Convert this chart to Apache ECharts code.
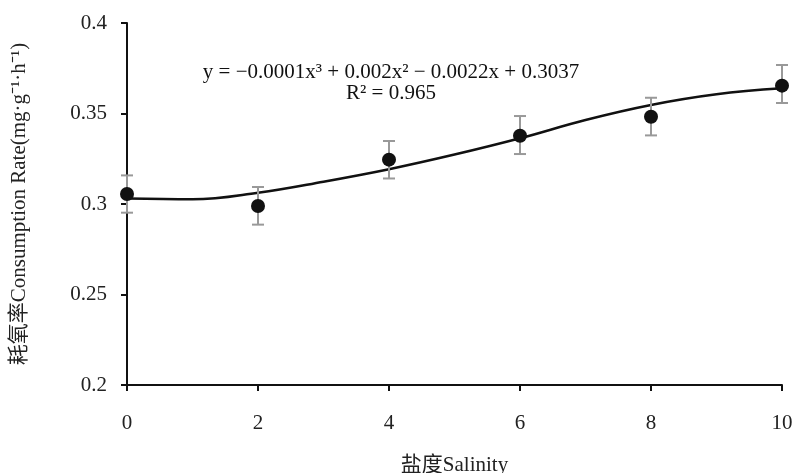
<!DOCTYPE html>
<html>
<head>
<meta charset="utf-8">
<script src="https://cdn.jsdelivr.net/npm/echarts@6/dist/echarts.min.js"></script>
<style>
  html, body { margin: 0; padding: 0; background: #fff; }
  #chart { width: 795px; height: 473px; }
</style>
</head>
<body>
<div id="chart"></div>
<script>
const salinity = [0, 2, 4, 6, 8, 10]
const rate = [0.3055, 0.2989, 0.3245, 0.3377, 0.3482, 0.3654]
const errLow = [0.2952, 0.2886, 0.3141, 0.3276, 0.3379, 0.3558]
const errHigh = [0.3158, 0.3094, 0.3348, 0.3486, 0.3587, 0.3768]

// fitted curve
const fitX = [0, 1, 2, 3, 4, 5, 6, 7, 8, 9, 10]
const fitY = [0.3030, 0.3026, 0.3062, 0.3123, 0.3192, 0.3273, 0.3363, 0.3464, 0.3547, 0.3606, 0.3639]

const fitLabel = 'y = −0.0001x³ + 0.002x² − 0.0022x + 0.3037'
const r2Label = 'R² = 0.965'

const serif = '"Liberation Serif", "Noto Sans CJK SC", serif'

const chart = echarts.init(document.getElementById('chart'))

const option = {
  animation: false,
  backgroundColor: '#fff',
  grid: { left: 127, right: 13, top: 23, bottom: 88, outerBoundsMode: 'none' },
  xAxis: {
    type: 'value',
    min: 0,
    max: 10,
    interval: 2,
    name: '盐度Salinity',
    nameLocation: 'middle',
    nameGap: 70,
    nameTextStyle: { fontFamily: serif, fontSize: 21, color: '#222' },
    axisLine: { lineStyle: { color: '#111', width: 2 } },
    axisTick: { show: true, length: 6, lineStyle: { color: '#111', width: 2 } },
    axisLabel: { fontFamily: serif, fontSize: 21, color: '#222', margin: 28 },
    splitLine: { show: false }
  },
  yAxis: {
    type: 'value',
    min: 0.2,
    max: 0.4,
    interval: 0.05,
    name: '耗氧率Consumption Rate(mg·g⁻¹·h⁻¹)',
    nameLocation: 'middle',
    nameGap: 97,
    nameTextStyle: { fontFamily: serif, fontSize: 21, color: '#222' },
    axisLine: { show: true, lineStyle: { color: '#111', width: 2 } },
    axisTick: { show: true, length: 6, lineStyle: { color: '#111', width: 2 } },
    axisLabel: {
      fontFamily: serif, fontSize: 21, color: '#222', margin: 20,
      formatter: v => String(parseFloat(v.toFixed(2)))
    },
    splitLine: { show: false }
  },
  graphic: [
    {
      type: 'text', x: 391, y: 72, z: 10,
      style: { text: fitLabel, font: '21px ' + serif, fill: '#111', align: 'center', verticalAlign: 'middle' }
    },
    {
      type: 'text', x: 391, y: 93, z: 10,
      style: { text: r2Label, font: '21px ' + serif, fill: '#111', align: 'center', verticalAlign: 'middle' }
    }
  ],
  series: [
    {
      type: 'line',
      data: fitX.map((x, i) => [x, fitY[i]]),
      smooth: 0.4,
      showSymbol: false,
      lineStyle: { color: '#111', width: 2.5 },
      z: 2
    },
    {
      type: 'custom',
      data: salinity.map((x, i) => [x, errLow[i], errHigh[i]]),
      renderItem: (params, api) => {
        const lo = api.coord([api.value(0), api.value(1)])
        const hi = api.coord([api.value(0), api.value(2)])
        const w = 6
        const style = { stroke: '#999', lineWidth: 2 }
        return {
          type: 'group',
          children: [
            { type: 'line', shape: { x1: hi[0], y1: hi[1], x2: lo[0], y2: lo[1] }, style },
            { type: 'line', shape: { x1: hi[0] - w, y1: hi[1], x2: hi[0] + w, y2: hi[1] }, style },
            { type: 'line', shape: { x1: lo[0] - w, y1: lo[1], x2: lo[0] + w, y2: lo[1] }, style }
          ]
        }
      },
      z: 3
    },
    {
      type: 'scatter',
      data: salinity.map((x, i) => [x, rate[i]]),
      symbolSize: 14,
      itemStyle: { color: '#111', opacity: 1 },
      z: 4
    }
  ]
}

chart.setOption(option)
</script>
</body>
</html>
